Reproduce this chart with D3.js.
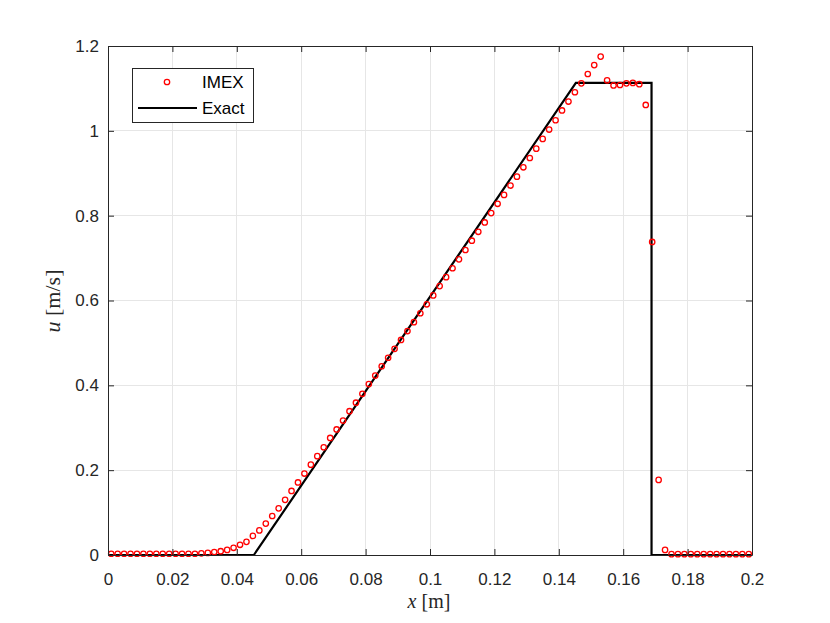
<!DOCTYPE html>
<html>
<head>
<meta charset="utf-8">
<script src="https://cdn.jsdelivr.net/npm/d3@7"></script>
<style>
  html, body { margin: 0; padding: 0; background: #fff; }
  svg { display: block; }
</style>
</head>
<body>
<svg id="chart" width="830" height="623"></svg>
<script>
// ---- data ----
const xTicks = [0, 0.02, 0.04, 0.06, 0.08, 0.1, 0.12, 0.14, 0.16, 0.18, 0.2];
const xTickLabels = ["0", "0.02", "0.04", "0.06", "0.08", "0.1", "0.12", "0.14", "0.16", "0.18", "0.2"];
const yTicks = [0, 0.2, 0.4, 0.6, 0.8, 1.0, 1.2];
const yTickLabels = ["0", "0.2", "0.4", "0.6", "0.8", "1", "1.2"];

// IMEX cell-centre positions (x = 0.001 ... 0.199)
const imexX = d3.range(100).map(i => +(0.001 + 0.002 * i).toFixed(3));
// IMEX values
const imexU = [
  0.003, 0.003, 0.003, 0.003, 0.003, 0.003, 0.003, 0.003, 0.003, 0.003,
  0.003, 0.003, 0.003, 0.003, 0.004, 0.005, 0.007, 0.009, 0.012, 0.017,
  0.024, 0.031, 0.045, 0.058, 0.074, 0.092, 0.110, 0.130, 0.151, 0.171,
  0.192, 0.213, 0.233, 0.254, 0.276, 0.296, 0.317, 0.339, 0.359, 0.380,
  0.403, 0.423, 0.445, 0.465, 0.486, 0.507, 0.528, 0.549, 0.570, 0.591,
  0.612, 0.634, 0.655, 0.676, 0.697, 0.719, 0.741, 0.762, 0.784, 0.806,
  0.828, 0.849, 0.871, 0.892, 0.914, 0.936, 0.958, 0.981, 1.003, 1.025,
  1.048, 1.069, 1.091, 1.112, 1.134, 1.155, 1.175, 1.119, 1.107, 1.108,
  1.112, 1.113, 1.110, 1.061, 0.738, 0.177, 0.012, 0.002, 0.002, 0.002,
  0.002, 0.002, 0.002, 0.002, 0.002, 0.002, 0.002, 0.002, 0.002, 0.002
];
// Exact solution breakpoints
const exactX = [0, 0.0453, 0.1453, 0.1688, 0.1688, 0.2];
const exactU = [0, 0, 1.113, 1.113, 0, 0];

const seriesNames = ["IMEX", "Exact"];

// ---- layout ----
const svg = d3.select("#chart");
const L = 108, R = 752, T = 46, B = 555;
const axisColor = "#262626";
const gridColor = "#e6e6e6";
const fontSans = "'Liberation Sans', Arial, Helvetica, sans-serif";
const fontSerif = "'Liberation Serif', 'DejaVu Serif', serif";
const tickFont = "17px";

const x = d3.scaleLinear().domain([0, 0.2]).range([L, R]);
const y = d3.scaleLinear().domain([0, 1.2]).range([B, T]);

// grid
const grid = svg.append("g");
grid.selectAll("line.gx").data(xTicks).enter().append("line")
  .attr("x1", d => x(d)).attr("x2", d => x(d)).attr("y1", T).attr("y2", B)
  .attr("stroke", gridColor).attr("stroke-width", 1).attr("shape-rendering", "crispEdges");
grid.selectAll("line.gy").data(yTicks).enter().append("line")
  .attr("x1", L).attr("x2", R).attr("y1", d => y(d)).attr("y2", d => y(d))
  .attr("stroke", gridColor).attr("stroke-width", 1).attr("shape-rendering", "crispEdges");

// axes (ticks inward)
const tickLen = 6;
const xAxisB = d3.axisBottom(x).tickValues(xTicks).tickSizeInner(-tickLen).tickSizeOuter(0)
  .tickPadding(18).tickFormat((d, i) => xTickLabels[i]);
const xAxisT = d3.axisTop(x).tickValues(xTicks).tickSizeInner(-tickLen).tickSizeOuter(0).tickFormat("");
const yAxisL = d3.axisLeft(y).tickValues(yTicks).tickSizeInner(-tickLen).tickSizeOuter(0)
  .tickPadding(9).tickFormat((d, i) => yTickLabels[i]);
const yAxisR = d3.axisRight(y).tickValues(yTicks).tickSizeInner(-tickLen).tickSizeOuter(0).tickFormat("");

function styleAxis(g) {
  g.selectAll("path").attr("stroke", axisColor).attr("stroke-width", 1);
  g.selectAll("line").attr("stroke", axisColor).attr("stroke-width", 1);
  g.selectAll("text").attr("fill", axisColor).style("font-family", fontSans).style("font-size", tickFont);
}

// data layers
const lineGen = d3.line().x(d => x(d[0])).y(d => y(d[1]));
svg.append("path")
  .datum(exactX.map((v, i) => [v, exactU[i]]))
  .attr("d", lineGen)
  .attr("fill", "none").attr("stroke", "#000").attr("stroke-width", 2.2)
  .attr("stroke-linejoin", "miter");

svg.append("g").selectAll("circle").data(imexX.map((v, i) => [v, imexU[i]])).enter().append("circle")
  .attr("cx", d => x(d[0])).attr("cy", d => y(d[1])).attr("r", 2.7)
  .attr("fill", "none").attr("stroke", "#ff0000").attr("stroke-width", 1.3);

svg.append("g").attr("transform", `translate(0,${B})`).call(xAxisB).call(styleAxis);
svg.append("g").attr("transform", `translate(0,${T})`).call(xAxisT).call(styleAxis);
svg.append("g").attr("transform", `translate(${L},0)`).call(yAxisL).call(styleAxis);
svg.append("g").attr("transform", `translate(${R},0)`).call(yAxisR).call(styleAxis);

// axis labels
const xl = svg.append("text").attr("x", 429).attr("y", 608).attr("text-anchor", "middle")
  .attr("fill", axisColor).style("font-family", fontSerif).style("font-size", "20px");
xl.append("tspan").style("font-style", "italic").text("x");
xl.append("tspan").text(" [m]");

const yl = svg.append("text").attr("transform", "translate(60,301) rotate(-90)").attr("text-anchor", "middle")
  .attr("fill", axisColor).style("font-family", fontSerif).style("font-size", "22px");
yl.append("tspan").style("font-style", "italic").text("u");
yl.append("tspan").text(" [m/s]");

// legend
const lg = svg.append("g");
lg.append("rect").attr("x", 132).attr("y", 68).attr("width", 121).attr("height", 54)
  .attr("fill", "#fff").attr("stroke", axisColor).attr("stroke-width", 1).attr("shape-rendering", "crispEdges");
lg.append("circle").attr("cx", 167).attr("cy", 82).attr("r", 2.7)
  .attr("fill", "none").attr("stroke", "#ff0000").attr("stroke-width", 1.3);
lg.append("line").attr("x1", 138).attr("x2", 197).attr("y1", 108).attr("y2", 108)
  .attr("stroke", "#000").attr("stroke-width", 2.2);
lg.selectAll("text").data(seriesNames).enter().append("text")
  .attr("x", 202).attr("y", (d, i) => 88 + i * 26)
  .attr("fill", "#000").style("font-family", fontSans).style("font-size", "17px")
  .text(d => d);
</script>
</body>
</html>
